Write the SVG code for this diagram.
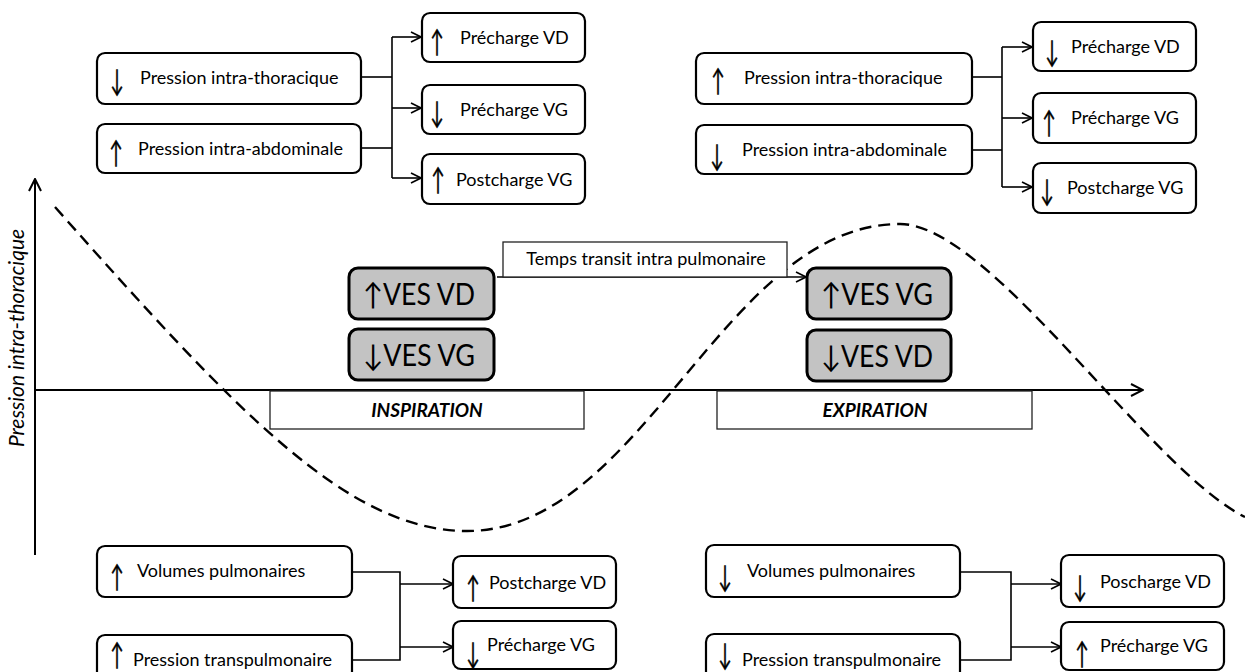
<svg xmlns="http://www.w3.org/2000/svg" width="1245" height="672" viewBox="0 0 1245 672">
<style>
.box{fill:#fff;stroke:#000;stroke-width:2.2}
.ves{fill:#c3c3c3;stroke:#000;stroke-width:3}
.plain{fill:#fff;stroke:#222;stroke-width:1.3}
.t{font-family:Lato,"Liberation Sans",sans-serif;font-size:18px;fill:#000}
.ar{font-family:Lato,"DejaVu Sans",sans-serif;font-size:30px;fill:#000;stroke:#000;stroke-width:0.5}
.vt{font-family:Lato,"DejaVu Sans",sans-serif;font-size:30px;fill:#000}
.lab{font-family:Lato,"Liberation Sans",sans-serif;font-size:19px;font-weight:bold;font-style:italic;fill:#000}
.ax{font-family:Lato,"Liberation Sans",sans-serif;font-size:21px;font-style:italic;fill:#000}
.c{fill:none;stroke:#000;stroke-width:1.6}
.axis{fill:none;stroke:#000;stroke-width:2}
</style>
<defs>
<marker id="arr" viewBox="0 0 12 12" refX="11" refY="6" markerWidth="12" markerHeight="12" markerUnits="userSpaceOnUse" orient="auto">
<path d="M1,1 L11,6 L1,11" fill="none" stroke="#000" stroke-width="1.6"/>
</marker>
<marker id="axarr" viewBox="0 0 14 14" refX="13" refY="7" markerWidth="14" markerHeight="14" markerUnits="userSpaceOnUse" orient="auto">
<path d="M1,1 L13,7 L1,13" fill="none" stroke="#000" stroke-width="2"/>
</marker>
</defs>

<g id="axes">
<line class="axis" x1="35" y1="555" x2="35" y2="179" marker-end="url(#axarr)"/>
<line class="axis" x1="35" y1="390" x2="1143" y2="390" marker-end="url(#axarr)"/>
<text class="ax" transform="translate(24,338) rotate(-90)" text-anchor="middle">Pression intra-thoracique</text>
</g>

<g id="curve">
<path d="M55,207 C235,410 347,531 467,531 C643,531 724,224 900,224 C990,224 1150,470 1245,517" fill="none" stroke="#000" stroke-width="2.4" stroke-dasharray="12,7"/>
</g>

<g id="connectors">
<polyline class="c" points="361,77 392,77"/>
<polyline class="c" points="361,148 392,148"/>
<line class="c" x1="392" y1="37" x2="392" y2="178"/>
<line class="c" x1="392" y1="37" x2="421" y2="37" marker-end="url(#arr)"/>
<line class="c" x1="392" y1="108" x2="421" y2="108" marker-end="url(#arr)"/>
<line class="c" x1="392" y1="178" x2="421" y2="178" marker-end="url(#arr)"/>

<polyline class="c" points="972,77 1002,77"/>
<polyline class="c" points="972,150 1002,150"/>
<line class="c" x1="1002" y1="47" x2="1002" y2="187"/>
<line class="c" x1="1002" y1="47" x2="1032" y2="47" marker-end="url(#arr)"/>
<line class="c" x1="1002" y1="118" x2="1032" y2="118" marker-end="url(#arr)"/>
<line class="c" x1="1002" y1="187" x2="1032" y2="187" marker-end="url(#arr)"/>

<polyline class="c" points="352,572 400,572 400,660 352,660"/>
<line class="c" x1="400" y1="584" x2="453" y2="584" marker-end="url(#arr)"/>
<line class="c" x1="400" y1="647" x2="453" y2="647" marker-end="url(#arr)"/>

<polyline class="c" points="960,572 1011,572 1011,660 960,660"/>
<line class="c" x1="1011" y1="584" x2="1061" y2="584" marker-end="url(#arr)"/>
<line class="c" x1="1011" y1="647" x2="1061" y2="647" marker-end="url(#arr)"/>

<line class="c" x1="497" y1="277" x2="806" y2="277" marker-end="url(#arr)"/>
</g>

<!-- top left -->
<g id="tl-thor">
<rect class="box" x="97" y="53" width="264" height="51" rx="8"/>
<text class="ar" text-anchor="middle" transform="translate(117,91) scale(0.6,1)">↓</text>
<text class="t" x="140" y="84">Pression intra-thoracique</text>
</g>
<g id="tl-abd">
<rect class="box" x="97" y="124" width="264" height="49" rx="8"/>
<text class="ar" text-anchor="middle" transform="translate(116,163) scale(0.6,1)">↑</text>
<text class="t" x="138" y="155">Pression intra-abdominale</text>
</g>
<g id="tl-prvd">
<rect class="box" x="422" y="13" width="163" height="49" rx="8"/>
<text class="ar" text-anchor="middle" transform="translate(437,52) scale(0.6,1)">↑</text>
<text class="t" x="460" y="44">Précharge VD</text>
</g>
<g id="tl-prvg">
<rect class="box" x="422" y="85" width="163" height="49" rx="8"/>
<text class="ar" text-anchor="middle" transform="translate(437,123) scale(0.6,1)">↓</text>
<text class="t" x="460" y="116">Précharge VG</text>
</g>
<g id="tl-povg">
<rect class="box" x="422" y="154" width="163" height="50" rx="8"/>
<text class="ar" text-anchor="middle" transform="translate(438,190) scale(0.6,1)">↑</text>
<text class="t" x="456" y="186">Postcharge VG</text>
</g>

<!-- top right -->
<g id="tr-thor">
<rect class="box" x="696" y="53" width="276" height="51" rx="8"/>
<text class="ar" text-anchor="middle" transform="translate(718,91) scale(0.6,1)">↑</text>
<text class="t" x="744" y="84">Pression intra-thoracique</text>
</g>
<g id="tr-abd">
<rect class="box" x="696" y="125" width="276" height="49" rx="8"/>
<text class="ar" text-anchor="middle" transform="translate(717,166) scale(0.6,1)">↓</text>
<text class="t" x="742" y="156">Pression intra-abdominale</text>
</g>
<g id="tr-prvd">
<rect class="box" x="1033" y="22" width="163" height="49" rx="8"/>
<text class="ar" text-anchor="middle" transform="translate(1052,62) scale(0.6,1)">↓</text>
<text class="t" x="1071" y="53">Précharge VD</text>
</g>
<g id="tr-prvg">
<rect class="box" x="1033" y="93" width="163" height="50" rx="8"/>
<text class="ar" text-anchor="middle" transform="translate(1049,133) scale(0.6,1)">↑</text>
<text class="t" x="1071" y="124">Précharge VG</text>
</g>
<g id="tr-povg">
<rect class="box" x="1033" y="163" width="163" height="50" rx="8"/>
<text class="ar" text-anchor="middle" transform="translate(1047,201) scale(0.6,1)">↓</text>
<text class="t" x="1067" y="194">Postcharge VG</text>
</g>

<!-- center -->
<g id="temps">
<rect class="plain" x="503" y="242" width="284" height="35"/>
<text class="t" x="646" y="265" text-anchor="middle" font-size="18.5">Temps transit intra pulmonaire</text>
</g>
<g id="ves-vd-up">
<rect class="ves" x="349" y="268" width="145" height="51" rx="9"/>
<text class="vt" x="363" y="305" textLength="112" lengthAdjust="spacingAndGlyphs">↑VES VD</text>
</g>
<g id="ves-vg-down">
<rect class="ves" x="349" y="329" width="145" height="51" rx="9"/>
<text class="vt" x="363" y="366" textLength="112" lengthAdjust="spacingAndGlyphs">↓VES VG</text>
</g>
<g id="ves-vg-up">
<rect class="ves" x="807" y="268" width="144" height="51" rx="9"/>
<text class="vt" x="821" y="305" textLength="112" lengthAdjust="spacingAndGlyphs">↑VES VG</text>
</g>
<g id="ves-vd-down">
<rect class="ves" x="807" y="330" width="144" height="51" rx="9"/>
<text class="vt" x="821" y="367" textLength="112" lengthAdjust="spacingAndGlyphs">↓VES VD</text>
</g>
<g id="inspiration">
<rect class="plain" x="270" y="391" width="314" height="38"/>
<text class="lab" x="427" y="417" text-anchor="middle">INSPIRATION</text>
</g>
<g id="expiration">
<rect class="plain" x="717" y="391" width="315" height="38"/>
<text class="lab" x="875" y="417" text-anchor="middle">EXPIRATION</text>
</g>

<!-- bottom left -->
<g id="bl-vol">
<rect class="box" x="97" y="546" width="255" height="51" rx="8"/>
<text class="ar" text-anchor="middle" transform="translate(117,587) scale(0.6,1)">↑</text>
<text class="t" x="137" y="577">Volumes pulmonaires</text>
</g>
<g id="bl-ptp">
<rect class="box" x="97" y="635" width="255" height="50" rx="8"/>
<text class="ar" text-anchor="middle" transform="translate(117,665) scale(0.6,1)">↑</text>
<text class="t" x="133" y="666">Pression transpulmonaire</text>
</g>
<g id="bl-povd">
<rect class="box" x="453" y="556" width="163" height="52" rx="8"/>
<text class="ar" text-anchor="middle" transform="translate(473,598) scale(0.6,1)">↑</text>
<text class="t" x="489" y="589">Postcharge VD</text>
</g>
<g id="bl-prvg">
<rect class="box" x="453" y="621" width="163" height="48" rx="8"/>
<text class="ar" text-anchor="middle" transform="translate(473,664) scale(0.6,1)">↓</text>
<text class="t" x="487" y="651">Précharge VG</text>
</g>

<!-- bottom right -->
<g id="br-vol">
<rect class="box" x="706" y="545" width="254" height="52" rx="8"/>
<text class="ar" text-anchor="middle" transform="translate(725,587) scale(0.6,1)">↓</text>
<text class="t" x="747" y="577">Volumes pulmonaires</text>
</g>
<g id="br-ptp">
<rect class="box" x="706" y="634" width="254" height="50" rx="8"/>
<text class="ar" text-anchor="middle" transform="translate(725,665) scale(0.6,1)">↓</text>
<text class="t" x="742" y="666">Pression transpulmonaire</text>
</g>
<g id="br-povd">
<rect class="box" x="1061" y="555" width="163" height="52" rx="8"/>
<text class="ar" text-anchor="middle" transform="translate(1080,597) scale(0.6,1)">↓</text>
<text class="t" x="1100" y="588">Poscharge VD</text>
</g>
<g id="br-prvg">
<rect class="box" x="1061" y="622" width="163" height="48" rx="8"/>
<text class="ar" text-anchor="middle" transform="translate(1082,664) scale(0.6,1)">↑</text>
<text class="t" x="1100" y="652">Précharge VG</text>
</g>
</svg>
